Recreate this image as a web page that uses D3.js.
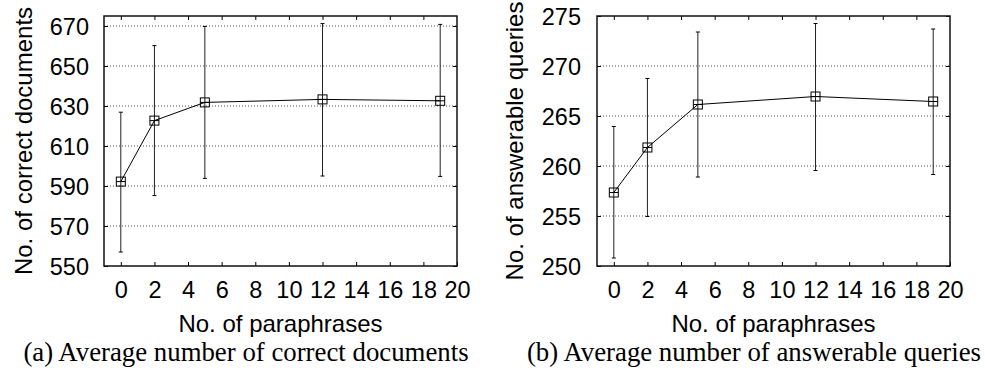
<!DOCTYPE html>
<html>
<head>
<meta charset="utf-8">
<script src="https://cdn.jsdelivr.net/npm/d3@7/dist/d3.min.js"></script>
<style>
  body { margin: 0; background: #fff; }
  svg { display: block; }
  .tick-label { font-family: "Liberation Sans", Arial, sans-serif; font-size: 23.5px; fill: #000; }
  .axis-title { font-family: "Liberation Sans", Arial, sans-serif; font-size: 24px; fill: #000; }
  .caption { font-family: "Liberation Serif", "Times New Roman", serif; font-size: 26.8px; fill: #000; }
</style>
</head>
<body>
<svg id="chart" width="985" height="373"></svg>
<script>
// x values shared by both panels
const paraphrases = [0, 2, 5, 12, 19];
const xTicks = [0, 2, 4, 6, 8, 10, 12, 14, 16, 18, 20];

// (a) correct documents
const docsMean = [592.2, 622.7, 631.8, 633.3, 632.6];
const docsLow = [557, 585.2, 593.8, 595, 594.8];
const docsHigh = [626.9, 660.2, 669.8, 671.2, 670.8];
const docsTicks = [550, 570, 590, 610, 630, 650, 670];

// (b) answerable queries
const queriesMean = [257.35, 261.85, 266.15, 266.95, 266.45];
const queriesLow = [250.8, 254.95, 258.9, 259.55, 259.15];
const queriesHigh = [263.95, 268.75, 273.4, 274.25, 273.7];
const queriesTicks = [250, 255, 260, 265, 270, 275];

const svg = d3.select('#chart');

function drawPanel(opt) {
  const { left, right, top, bottom } = opt.box;
  const x = d3.scaleLinear().domain([-1, 20]).range([left, right]);
  const y = d3.scaleLinear().domain(opt.yDomain).range([bottom, top]);
  const g = svg.append('g');

  // dotted grid lines
  g.selectAll('line.grid')
    .data(opt.yTicks.filter(t => y(t) > top + 2 && y(t) < bottom - 2))
    .enter()
    .append('line')
    .attr('x1', left).attr('x2', right)
    .attr('y1', d => y(d)).attr('y2', d => y(d))
    .attr('stroke', '#555')
    .attr('stroke-width', 1)
    .attr('stroke-dasharray', '1,2');

  // axes with inward ticks (d3 axis, ticks flipped inside the frame)
  const xb = g.append('g').attr('transform', `translate(0,${bottom})`)
    .call(d3.axisBottom(x).tickValues(xTicks).tickSizeInner(-4).tickSizeOuter(0).tickPadding(15));
  const xt = g.append('g').attr('transform', `translate(0,${top})`)
    .call(d3.axisTop(x).tickValues(xTicks.filter(t => t < 20)).tickSizeInner(-4).tickSizeOuter(0).tickFormat(''));
  const yl = g.append('g').attr('transform', `translate(${left},0)`)
    .call(d3.axisLeft(y).tickValues(opt.yTicks).tickSizeInner(-4).tickSizeOuter(0).tickPadding(opt.yPad));
  const yr = g.append('g').attr('transform', `translate(${right},0)`)
    .call(d3.axisRight(y).tickValues(opt.yTicks).tickSizeInner(-4).tickSizeOuter(0).tickFormat(''));

  [xb, xt, yl, yr].forEach(a => {
    a.select('.domain').remove();
    a.selectAll('.tick line').attr('stroke', '#000');
    a.selectAll('.tick text').attr('class', 'tick-label').attr('font-size', null).attr('font-family', null);
  });
  xb.selectAll('.tick text').attr('dy', '0.71em');
  yl.selectAll('.tick text').attr('dy', '0.36em');

  // frame
  g.append('rect')
    .attr('x', left).attr('y', top)
    .attr('width', right - left).attr('height', bottom - top)
    .attr('fill', 'none').attr('stroke', '#111').attr('stroke-width', 1.5);

  // error bars
  const idx = d3.range(paraphrases.length);
  g.selectAll('line.err')
    .data(idx).enter().append('line')
    .attr('x1', i => x(paraphrases[i])).attr('x2', i => x(paraphrases[i]))
    .attr('y1', i => y(opt.low[i])).attr('y2', i => y(opt.high[i]))
    .attr('stroke', '#222').attr('stroke-width', 1);
  ['low', 'high'].forEach(k => {
    g.selectAll('line.cap-' + k)
      .data(idx).enter().append('line')
      .attr('x1', i => x(paraphrases[i]) - 2).attr('x2', i => x(paraphrases[i]) + 2)
      .attr('y1', i => y(opt[k][i])).attr('y2', i => y(opt[k][i]))
      .attr('stroke', '#000').attr('stroke-width', 1);
  });

  // mean line
  const line = d3.line().x(i => x(paraphrases[i])).y(i => y(opt.mean[i]));
  g.append('path').datum(idx)
    .attr('d', line).attr('fill', 'none').attr('stroke', '#000').attr('stroke-width', 1);

  // boxed-plus markers
  const s = 4.5;
  const pts = g.selectAll('g.pt').data(idx).enter().append('g')
    .attr('transform', i => `translate(${x(paraphrases[i])},${y(opt.mean[i])})`);
  pts.append('rect').attr('x', -s).attr('y', -s).attr('width', 2 * s).attr('height', 2 * s)
    .attr('fill', '#fff').attr('fill-opacity', 0).attr('stroke', '#000').attr('stroke-width', 1);
  pts.append('line').attr('x1', -s).attr('x2', s).attr('y1', 0).attr('y2', 0)
    .attr('stroke', '#000').attr('stroke-width', 1);

  // titles
  g.append('text').attr('class', 'axis-title')
    .attr('x', (left + right) / 2).attr('y', 332)
    .attr('text-anchor', 'middle').text('No. of paraphrases');
  g.append('text').attr('class', 'axis-title')
    .attr('transform', `translate(${opt.yTitleX},${(top + bottom) / 2}) rotate(-90)`)
    .attr('text-anchor', 'middle').text(opt.yTitle);
  g.append('text').attr('class', 'caption')
    .attr('x', opt.captionX).attr('y', 361)
    .attr('text-anchor', 'middle').text(opt.caption);
}

drawPanel({
  box: { left: 104, right: 457, top: 16, bottom: 266 },
  yDomain: [550, 675],
  yTicks: docsTicks, yPad: 15,
  mean: docsMean, low: docsLow, high: docsHigh,
  yTitle: 'No. of correct documents', yTitleX: 32,
  caption: '(a) Average number of correct documents', captionX: 246
});

drawPanel({
  box: { left: 597, right: 950, top: 16, bottom: 266 },
  yDomain: [250, 275],
  yTicks: queriesTicks, yPad: 16,
  mean: queriesMean, low: queriesLow, high: queriesHigh,
  yTitle: 'No. of answerable queries', yTitleX: 523,
  caption: '(b) Average number of answerable queries', captionX: 754
});
</script>
</body>
</html>
